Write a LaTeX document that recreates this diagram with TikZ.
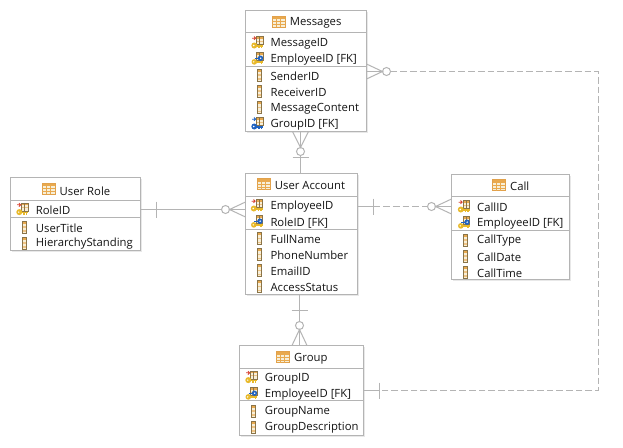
\documentclass[tikz,border=0pt]{standalone}
\usepackage{fontspec}
\setmainfont{Open Sans}
\usetikzlibrary{calc}
\definecolor{boxc}{HTML}{B4B4B4}
\definecolor{linec}{HTML}{B4B4B4}
\definecolor{ink}{HTML}{141414}
\definecolor{icoor}{HTML}{E9A94E}
\definecolor{icobr}{HTML}{8A7448}
\definecolor{icocr}{HTML}{F7EFD8}
\definecolor{icoke}{HTML}{E8B92A}
\definecolor{icobl}{HTML}{1F62C0}
\definecolor{icore}{HTML}{D8402F}
\tikzset{
  x=1pt,y=-1pt,
  entity/.style={draw=boxc,line width=1pt,fill=white,inner sep=0pt,outer sep=0pt,rectangle},
  divider/.style={draw=boxc,line width=1pt},
  conn/.style={draw=linec,line width=1pt},
  dashconn/.style={conn,dash pattern=on 6.7pt off 3pt},
  ring/.style={circle,draw=linec,line width=1pt,fill=white,minimum size=8pt,inner sep=0pt,outer sep=0pt},
  field/.style={anchor=west,inner sep=0pt,text=ink,yshift=-1pt,font=\fontsize{11.3}{13}\selectfont},
  titletext/.style={field},
  minitable/.pic={
    \fill[icocr] (-1,-6.5) rectangle (5.5,1.5);
    \fill[icoor] (-1,-6.5) rectangle (5.5,-4);
    \fill[icoor!70!white] (-1,-2.2) rectangle (5.5,-1.2);
    \draw[icobr,line width=0.6pt] (-1,-6.5) rectangle (5.5,1.5);
    \draw[icobr,line width=0.5pt] (2.2,-6.5) -- (2.2,1.5);
  },
  colic/.pic={
    \fill[icocr] (-2,-6) rectangle (2,6);
    \fill[icoor] (-2,-6) rectangle (2,-3.5);
    \fill[icoor!70!white] (-2,-1) rectangle (2,0.5);
    \fill[icoor!70!white] (-2,3) rectangle (2,4.5);
    \draw[icobr,line width=0.8pt] (-2,-6) rectangle (2,6);
  },
  tabic/.pic={
    \fill[icocr] (-6.5,-5.5) rectangle (6.5,5.5);
    \fill[icoor] (-6.5,-5.5) rectangle (6.5,-2.5);
    \draw[icoor!80!brown,line width=0.7pt] (-6.5,-5.5) rectangle (6.5,5.5);
    \draw[icoor,line width=0.6pt] (-2.2,-2.5) -- (-2.2,5.5) (2.2,-2.5) -- (2.2,5.5) (-6.5,0) -- (6.5,0) (-6.5,2.8) -- (6.5,2.8);
  },
  pkic/.pic={
    \pic {minitable};
    \draw[icore,line width=0.8pt] (-5.5,-4.5) -- (-2,-4.5) (-3.5,-6.2) -- (-1.8,-4.5) -- (-3.5,-2.8);
    \draw[icoke,line width=1.5pt] (-3,3.2) -- (5.5,3.2) (4,3.2) -- (4,5.5) (1.5,3.2) -- (1.5,5.5);
    \fill[icoke] (-3.2,2.8) circle (3);
    \fill[white] (-3.8,2.8) circle (0.8);
  },
  fkic/.pic={
    \pic {minitable};
    \draw[icobl,line width=1.1pt] (-3,0) -- (3,0);
    \fill[icobl] (3,-0.5) circle (2.7);
    \fill[white] (3.2,-0.5) circle (0.8);
    \draw[icoke,line width=1.5pt] (-3,3.5) -- (5.5,3.5) (4,3.5) -- (4,5.5);
    \fill[icoke] (-3.2,3.2) circle (2.8);
    \fill[white] (-3.8,3.2) circle (0.8);
  },
  bfkic/.pic={
    \pic {minitable};
    \draw[icobl,line width=0.8pt] (-5.5,-4.5) -- (-2,-4.5) (-3.5,-6.2) -- (-1.8,-4.5) -- (-3.5,-2.8);
    \draw[icobl,line width=1.5pt] (-3,3.2) -- (5.5,3.2) (4,3.2) -- (4,5.5) (1.5,3.2) -- (1.5,5.5);
    \fill[icobl] (-3.2,2.8) circle (3);
    \fill[white] (-3.8,2.8) circle (0.8);
  },
}
\newcommand{\shadowbox}[4]{\fill[black!9] (#1+1,#2+1) rectangle (#3+1.5,#4+1.5);}
\begin{document}
\begin{tikzpicture}
\useasboundingbox (0,0) rectangle (623,447);
\fill[white] (0,0) rectangle (623,447);

% shadows
\shadowbox{245.5}{10.5}{366.5}{131.5}
\shadowbox{10.5}{177.5}{140.5}{250.5}
\shadowbox{245.5}{173.5}{357.5}{294.5}
\shadowbox{451.5}{174.5}{569.5}{279.5}
\shadowbox{239.5}{345.5}{363.5}{435.5}

% entity boxes
\node[entity,minimum width=121pt,minimum height=121pt] (msg) at (306,71) {};
\node[entity,minimum width=130pt,minimum height=73pt] (role) at (75.5,214) {};
\node[entity,minimum width=112pt,minimum height=121pt] (acct) at (301.5,234) {};
\node[entity,minimum width=118pt,minimum height=105pt] (call) at (510.5,227) {};
\node[entity,minimum width=124pt,minimum height=90pt] (grp) at (301.5,390.5) {};

% dividers
\draw[divider] ($(msg.north west)+(0,22)$) -- ($(msg.north east)+(0,22)$);
\draw[divider] ($(msg.north west)+(0,56)$) -- ($(msg.north east)+(0,56)$);
\draw[divider] ($(role.north west)+(0,23)$) -- ($(role.north east)+(0,23)$);
\draw[divider] ($(role.north west)+(0,40)$) -- ($(role.north east)+(0,40)$);
\draw[divider] ($(acct.north west)+(0,23)$) -- ($(acct.north east)+(0,23)$);
\draw[divider] ($(acct.north west)+(0,56)$) -- ($(acct.north east)+(0,56)$);
\draw[divider] ($(call.north west)+(0,22)$) -- ($(call.north east)+(0,22)$);
\draw[divider] ($(call.north west)+(0,56)$) -- ($(call.north east)+(0,56)$);
\draw[divider] ($(grp.north west)+(0,23)$) -- ($(grp.north east)+(0,23)$);
\draw[divider] ($(grp.north west)+(0,55)$) -- ($(grp.north east)+(0,55)$);

% rings and bar anchors
\node[ring] (r1) at (225.5,209.5) {};
\node[ring] (r2) at (431.5,206.5) {};
\node[ring] (r3) at (300.5,151.5) {};
\node[ring] (r4) at (299.5,325.5) {};
\node[ring] (r5) at (386.5,71.5) {};
\coordinate (b1) at (156.5,209.5);
\coordinate (b2) at (373.5,206.5);
\coordinate (b3) at (300.5,157.5);
\coordinate (b4) at (299.5,310.5);
\coordinate (b5) at (379.5,390.5);
\coordinate (corner1) at (598.5,71.5);
\coordinate (corner2) at (598.5,390.5);

% User Role - User Account
\draw[conn] (r1 -| role.east) -- (r1.west);
\draw[conn] ($(b1)+(0,-8)$) -- ($(b1)+(0,8)$);
\draw[conn] ($(r1 -| acct.west)+(0,-7.5)$) -- (r1.east) -- ($(r1 -| acct.west)+(0,7.5)$);
\draw[conn] (r1.east) -- (r1 -| acct.west);
% User Account - Call
\draw[conn] (r2 -| acct.east) -- (b2);
\draw[conn] ($(b2)+(0,-8)$) -- ($(b2)+(0,8)$);
\draw[dashconn] (b2) -- (r2.west);
\draw[conn] ($(r2 -| call.west)+(0,-7.5)$) -- (r2.east) -- ($(r2 -| call.west)+(0,7.5)$);
\draw[conn] (r2.east) -- (r2 -| call.west);
% Messages - User Account
\draw[conn] (r3.south) -- (r3 |- acct.north);
\draw[conn] ($(b3)+(-8,0)$) -- ($(b3)+(8,0)$);
\draw[conn] ($(r3 |- msg.south)+(-8,0)$) -- (r3.north) -- ($(r3 |- msg.south)+(8,0)$);
\draw[conn] (r3.north) -- (r3 |- msg.south);
% User Account - Group
\draw[conn] (r4 |- acct.south) -- (r4.north);
\draw[conn] ($(b4)+(-8,0)$) -- ($(b4)+(8,0)$);
\draw[conn] ($(r4 |- grp.north)+(-7.5,0)$) -- (r4.south) -- ($(r4 |- grp.north)+(7.5,0)$);
\draw[conn] (r4.south) -- (r4 |- grp.north);
% Messages - Group
\draw[conn] ($(r5 -| msg.east)+(0,-7.5)$) -- (r5.west) -- ($(r5 -| msg.east)+(0,7.5)$);
\draw[conn] (r5 -| msg.east) -- (r5.west);
\draw[dashconn] (r5.east) -- (corner1) -- (corner2) -- (b5);
\draw[conn] (b5) -- (b5 -| grp.east);
\draw[conn] ($(b5)+(0,-8)$) -- ($(b5)+(0,8)$);

% Messages
\pic at (278.5,21.5) {tabic};
\node[titletext] (msgt) at (289.7,21.5) {Messages};
\pic at (257.5,42.7) {pkic};
\node[field] (msg1) at (270.5,42.7) {MessageID};
\pic at (257.5,58.7) {fkic};
\node[field] (msg2) at (270.5,58.7) {EmployeeID [FK]};
\pic at (259,75) {colic};
\node[field] (msg3) at (270.5,75) {SenderID};
\pic at (259,91) {colic};
\node[field] (msg4) at (270.5,91) {ReceiverID};
\pic at (259,107.5) {colic};
\node[field] (msg5) at (270.5,107.5) {MessageContent};
\pic at (257.5,123.7) {bfkic};
\node[field] (msg6) at (270.5,123.7) {GroupID [FK]};

% User Role
\pic at (48.5,188.5) {tabic};
\node[titletext] (rolet) at (59.5,190) {User Role};
\pic at (22.5,209.3) {pkic};
\node[field] (role1) at (35.7,209.3) {RoleID};
\pic at (24,227) {colic};
\node[field] (role2) at (35.7,227) {UserTitle};
\pic at (24,243) {colic};
\node[field] (role3) at (35.7,243) {HierarchyStanding};

% User Account
\pic at (263.5,184) {tabic};
\node[titletext] (acctt) at (274.7,184.7) {User Account};
\pic at (257,205.7) {pkic};
\node[field] (acct1) at (270.3,205.7) {EmployeeID};
\pic at (257,221.7) {fkic};
\node[field] (acct2) at (270.3,221.7) {RoleID [FK]};
\pic at (259,238.5) {colic};
\node[field] (acct3) at (270.3,238.7) {FullName};
\pic at (259,254.5) {colic};
\node[field] (acct4) at (270.3,254.7) {PhoneNumber};
\pic at (259,270.5) {colic};
\node[field] (acct5) at (270.3,270.7) {EmailID};
\pic at (259,286.5) {colic};
\node[field] (acct6) at (270.3,286.7) {AccessStatus};

% Call
\pic at (498.5,185) {tabic};
\node[titletext] (callt) at (510,185.7) {Call};
\pic at (464,206.7) {pkic};
\node[field] (call1) at (477,206.7) {CallID};
\pic at (464,222.7) {fkic};
\node[field] (call2) at (477,222.7) {EmployeeID [FK]};
\pic at (465,240) {colic};
\node[field] (call3) at (477,240) {CallType};
\pic at (465,256) {colic};
\node[field] (call4) at (477,256) {CallDate};
\pic at (465,272) {colic};
\node[field] (call5) at (477,272) {CallTime};

% Group
\pic at (282.5,357) {tabic};
\node[titletext] (grpt) at (294,357.7) {Group};
\pic at (251.5,377.3) {pkic};
\node[field] (grp1) at (264.7,377.3) {GroupID};
\pic at (251.5,393.7) {fkic};
\node[field] (grp2) at (264.7,393.7) {EmployeeID [FK]};
\pic at (253.5,411) {colic};
\node[field] (grp3) at (264.7,410.7) {GroupName};
\pic at (253.5,427) {colic};
\node[field] (grp4) at (264.7,426.7) {GroupDescription};
\end{tikzpicture}
\end{document}
